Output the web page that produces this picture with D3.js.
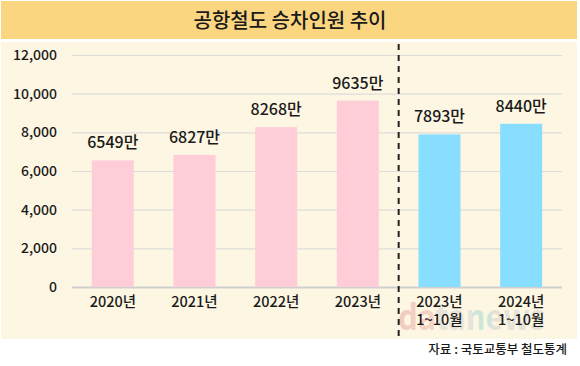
<!DOCTYPE html>
<html><head><meta charset="utf-8">
<script src="https://cdn.jsdelivr.net/npm/d3@7"></script>
<style>
html,body{margin:0;padding:0;background:#fff;}
svg{display:block;}
text{font-family:"Noto Sans CJK KR","Noto Sans",sans-serif;}
</style></head>
<body>
<svg id="chart" width="580" height="366"></svg>
<script>
const title = "공항철도 승차인원 추이";
const categories = ["2020년","2021년","2022년","2023년","2023년\n1~10월","2024년\n1~10월"];
const values = [6549, 6827, 8268, 9635, 7893, 8440];
const valueLabels = ["6549만","6827만","8268만","9635만","7893만","8440만"];
const groups = ["year","year","year","year","partial","partial"];
const yTicks = [0, 2000, 4000, 6000, 8000, 10000, 12000];
const source = "자료 : 국토교통부 철도통계";
const watermark = "datanews";

const colors = {year:"#FFCDD8", partial:"#88DEFF"};
const svg = d3.select("#chart");

// watermark gradient
const grad = svg.append("defs").append("linearGradient").attr("id","wmg")
  .attr("gradientUnits","userSpaceOnUse").attr("x1",398).attr("x2",545).attr("y1",0).attr("y2",0);
[[0,"#E9A8A0"],[0.26,"#EBBDB5"],[0.27,"#D6D6D6"],[0.5,"#D6D6D6"],[0.51,"#A9D9D2"],[0.63,"#A9D9D2"],[0.64,"#D2D2D2"],[1,"#D2D2D2"]]
  .forEach(s=>grad.append("stop").attr("offset",s[0]).attr("stop-color",s[1]));

// backgrounds
svg.append("rect").attr("x",1).attr("y",1).attr("width",576).attr("height",38).attr("fill","#FAD680");
svg.append("rect").attr("x",1).attr("y",42).attr("width",576).attr("height",297).attr("fill","#FDF6E2");

svg.append("text").attr("x",290).attr("y",28).attr("text-anchor","middle")
  .attr("font-size",20).attr("font-weight",500).attr("fill","#1a1a1a").text(title);

const x = d3.scaleBand().domain(categories).range([72,562]).paddingInner(0.486).paddingOuter(0.243);
const y = d3.scaleLinear().domain([0,12000]).range([287,55]);

// grid
const grid = svg.append("g");
grid.selectAll("line").data(yTicks).join("line")
  .attr("x1",72).attr("x2",562)
  .attr("y1",d=>y(d)+0.5).attr("y2",d=>y(d)+0.5)
  .attr("stroke",d=>d===0?"#cfcfcf":"#dcdcdc").attr("stroke-width",d=>d===0?2:1.2);

// y axis labels
const yAxis = d3.axisLeft(y).tickValues(yTicks).tickFormat(d3.format(",")).tickSize(0).tickPadding(0);
const yg = svg.append("g").attr("transform","translate(57,0)").call(yAxis);
yg.select(".domain").remove();
yg.selectAll("text").attr("font-size",14).attr("font-weight",500).attr("fill","#1a1a1a")
  .attr("font-family","'Noto Sans CJK KR','Noto Sans',sans-serif");

// watermark (faint logo)
svg.append("text").attr("x",398).attr("y",330).attr("font-size",36).attr("font-weight",700)
  .attr("font-family","'Noto Sans','Open Sans',sans-serif")
  .attr("textLength",147).attr("lengthAdjust","spacingAndGlyphs")
  .attr("fill","url(#wmg)").attr("opacity",0.55).text(watermark);

// bars
svg.append("g").selectAll("rect").data(values).join("rect")
  .attr("x",(d,i)=>x(categories[i])).attr("width",x.bandwidth())
  .attr("y",d=>y(d)).attr("height",d=>y(0)-y(d))
  .attr("fill",(d,i)=>colors[groups[i]]);

// value labels
svg.append("g").selectAll("text").data(values).join("text")
  .attr("x",(d,i)=>x(categories[i])+x.bandwidth()/2)
  .attr("y",d=>y(d)-12)
  .attr("text-anchor","middle").attr("font-size",16).attr("font-weight",500).attr("fill","#1a1a1a")
  .text((d,i)=>valueLabels[i]);

// x axis labels
const xl = svg.append("g").selectAll("text").data(categories).join("text")
  .attr("x",d=>x(d)+x.bandwidth()/2).attr("y",307)
  .attr("text-anchor","middle").attr("font-size",14.5).attr("font-weight",500).attr("fill","#1a1a1a");
xl.each(function(d){
  const lines = d.split("\n");
  const t = d3.select(this);
  lines.forEach((l,i)=>t.append("tspan").attr("x",+t.attr("x")).attr("dy",i===0?0:18).text(l));
});

// divider dashed line
const divX = (x(categories[3])+x.bandwidth() + x(categories[4]))/2;
svg.append("line").attr("x1",divX).attr("x2",divX).attr("y1",44).attr("y2",339)
  .attr("stroke","#222").attr("stroke-width",2).attr("stroke-dasharray","6,5");

// source
svg.append("text").attr("x",567).attr("y",354).attr("text-anchor","end")
  .attr("font-size",12.5).attr("font-weight",500).attr("fill","#1a1a1a").text(source);
</script>
</body></html>
